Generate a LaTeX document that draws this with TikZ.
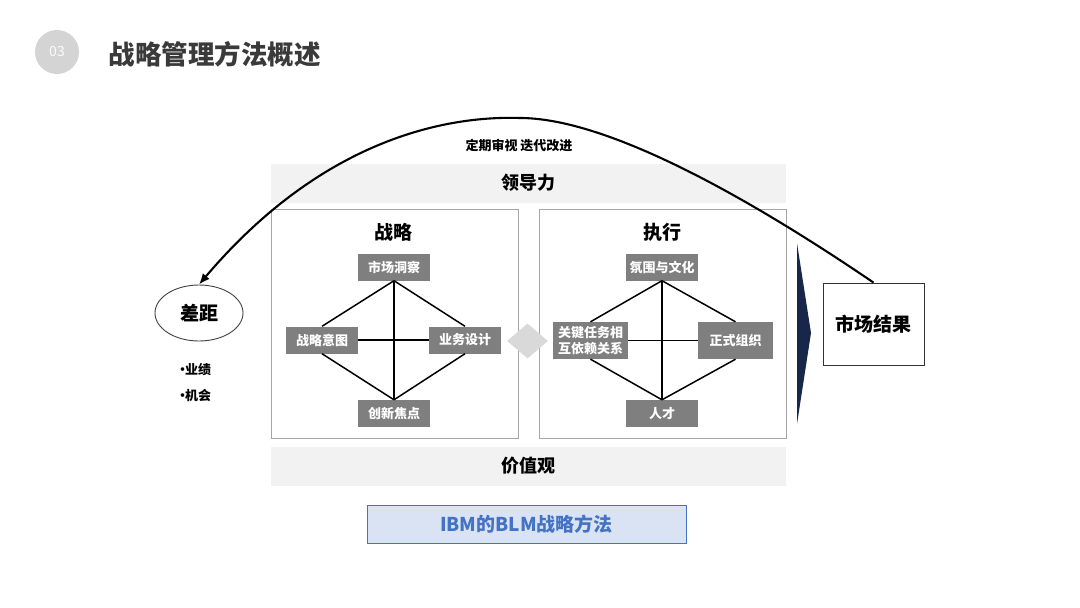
\documentclass[tikz,border=0pt]{standalone}
\usepackage{fontspec}
\setmainfont{Noto Sans CJK SC}
\usetikzlibrary{positioning, calc, arrows.meta, shapes.geometric}
\tikzset{>=latex}
\definecolor{cellgray}{RGB}{127,127,127}
\definecolor{bandgray}{RGB}{242,242,242}
\definecolor{framegray}{RGB}{166,166,166}
\definecolor{linkgray}{RGB}{217,217,217}
\definecolor{blobgray}{RGB}{212,212,212}
\definecolor{titlegray}{RGB}{58,58,58}
\definecolor{navy}{RGB}{24,38,74}
\definecolor{capblue}{RGB}{68,114,196}
\definecolor{capfill}{RGB}{218,227,243}

\begin{document}
\begin{tikzpicture}
    [
        x=1pt, y=-1pt,
        cell/.style={fill=cellgray, text=white, font=\bfseries\fontsize{13}{15.5}\selectfont, minimum width=72pt, minimum height=27pt, inner sep=1pt, align=center},
        band/.style={fill=bandgray, minimum width=515pt, minimum height=39pt, inner sep=0pt, font=\bfseries\fontsize{18}{20}\selectfont},
        frame/.style={draw=framegray, line width=0.8pt, minimum width=247pt, minimum height=229pt, inner sep=0pt},
        head/.style={font=\bfseries\fontsize{19}{22}\selectfont},
        small/.style={font=\bfseries\fontsize{13}{15}\selectfont},
        link/.style={black, line width=1.5pt},
    ]
  \useasboundingbox (0,0) rectangle (1080,608);

  % title
  \node[circle, fill=blobgray, minimum size=44pt, inner sep=0pt, text=white!90!blobgray, font=\fontsize{14}{16}\selectfont] (num) at (57,52) {03};
  \node[anchor=west, text=titlegray, font=\bfseries\fontsize{26.5}{30}\selectfont] (title) at (105,54) {战略管理方法概述};

  % bands and frames
  \node[band] (lead) at (528.5,183) {领导力};
  \node[band] (value) at (528.5,466) {价值观};
  \node[frame] (strat) at (394.5,324) {};
  \node[frame] (exec) at (663,324) {};
  \node[head] (strat_t) at (393,232) {战略};
  \node[head] (exec_t) at (662,232) {执行};

  % strategy
  \node[cell] (s_top) at (394,267) {市场洞察};
  \node[cell] (s_left) at (322,340) {战略意图};
  \node[cell] (s_right) at (465,340) {业务设计};
  \node[cell] (s_bot) at (394,413.5) {创新焦点};

  \draw[link] (s_top.south) -- (s_left.north);
  \draw[link] (s_top.south) -- (s_right.north);
  \draw[link] (s_left.south) -- (s_bot.north);
  \draw[link] (s_right.south) -- (s_bot.north);
  \draw[link] (s_top.south) -- (s_bot.north);
  \draw[link] (s_left.east) -- (s_right.west);

  % execution
  \node[cell] (e_top) at (662,267) {氛围与文化};
  \node[cell, minimum width=75pt, minimum height=37pt] (e_left) at (590.5,340.5) {关键任务相\\互依赖关系};
  \node[cell, minimum width=75pt, minimum height=37pt] (e_right) at (735.5,340.5) {正式组织};
  \node[cell] (e_bot) at (662,413.5) {人才};

  \draw[link] (e_top.south) -- (e_left.north);
  \draw[link] (e_top.south) -- (e_right.north);
  \draw[link] (e_left.south) -- (e_bot.north);
  \draw[link] (e_right.south) -- (e_bot.north);
  \draw[link] (e_top.south) -- (e_bot.north);
  \draw[link] (e_left.east) -- (e_right.west);

  \node[diamond, fill=linkgray, minimum width=41pt, minimum height=35pt, inner sep=0pt] (join) at (527.5,341) {};

  % result side
  \fill[navy] (797,243) -- (811,333) -- (797,424) -- cycle;
  \node[draw=black!80, line width=0.9pt, minimum width=101pt, minimum height=82pt, head] (mkt) at (873.5,324) {市场结果};

  % gap side
  \node[ellipse, draw=black!75, line width=0.9pt, minimum width=88pt, minimum height=56pt, head] (gap) at (199,313) {差距};
  \node[small, anchor=west, inner sep=0pt] (perf) at (180,370) {\makebox[5pt]{·}业绩};
  \node[small, anchor=west, inner sep=0pt] (chance) at (180,396) {\makebox[5pt]{·}机会};

  % review loop
  \coordinate (peak) at (520,118);
  \draw[-{Latex[length=11pt,width=9pt]}, line width=2.1pt] (mkt.north) .. controls (730,185) and (600,118) .. (peak) .. controls (460,116) and (330,130) .. (gap.north);
  \node[small] (loop) at (519,145) {定期审视 迭代改进};

  % caption
  \node[draw=capblue, fill=capfill, line width=0.9pt, minimum width=319pt, minimum height=38pt, text=capblue, font=\bfseries\fontsize{19}{22}\selectfont] (cap) at (526.5,524) {IBM的BLM战略方法};
\end{tikzpicture}
\end{document}
